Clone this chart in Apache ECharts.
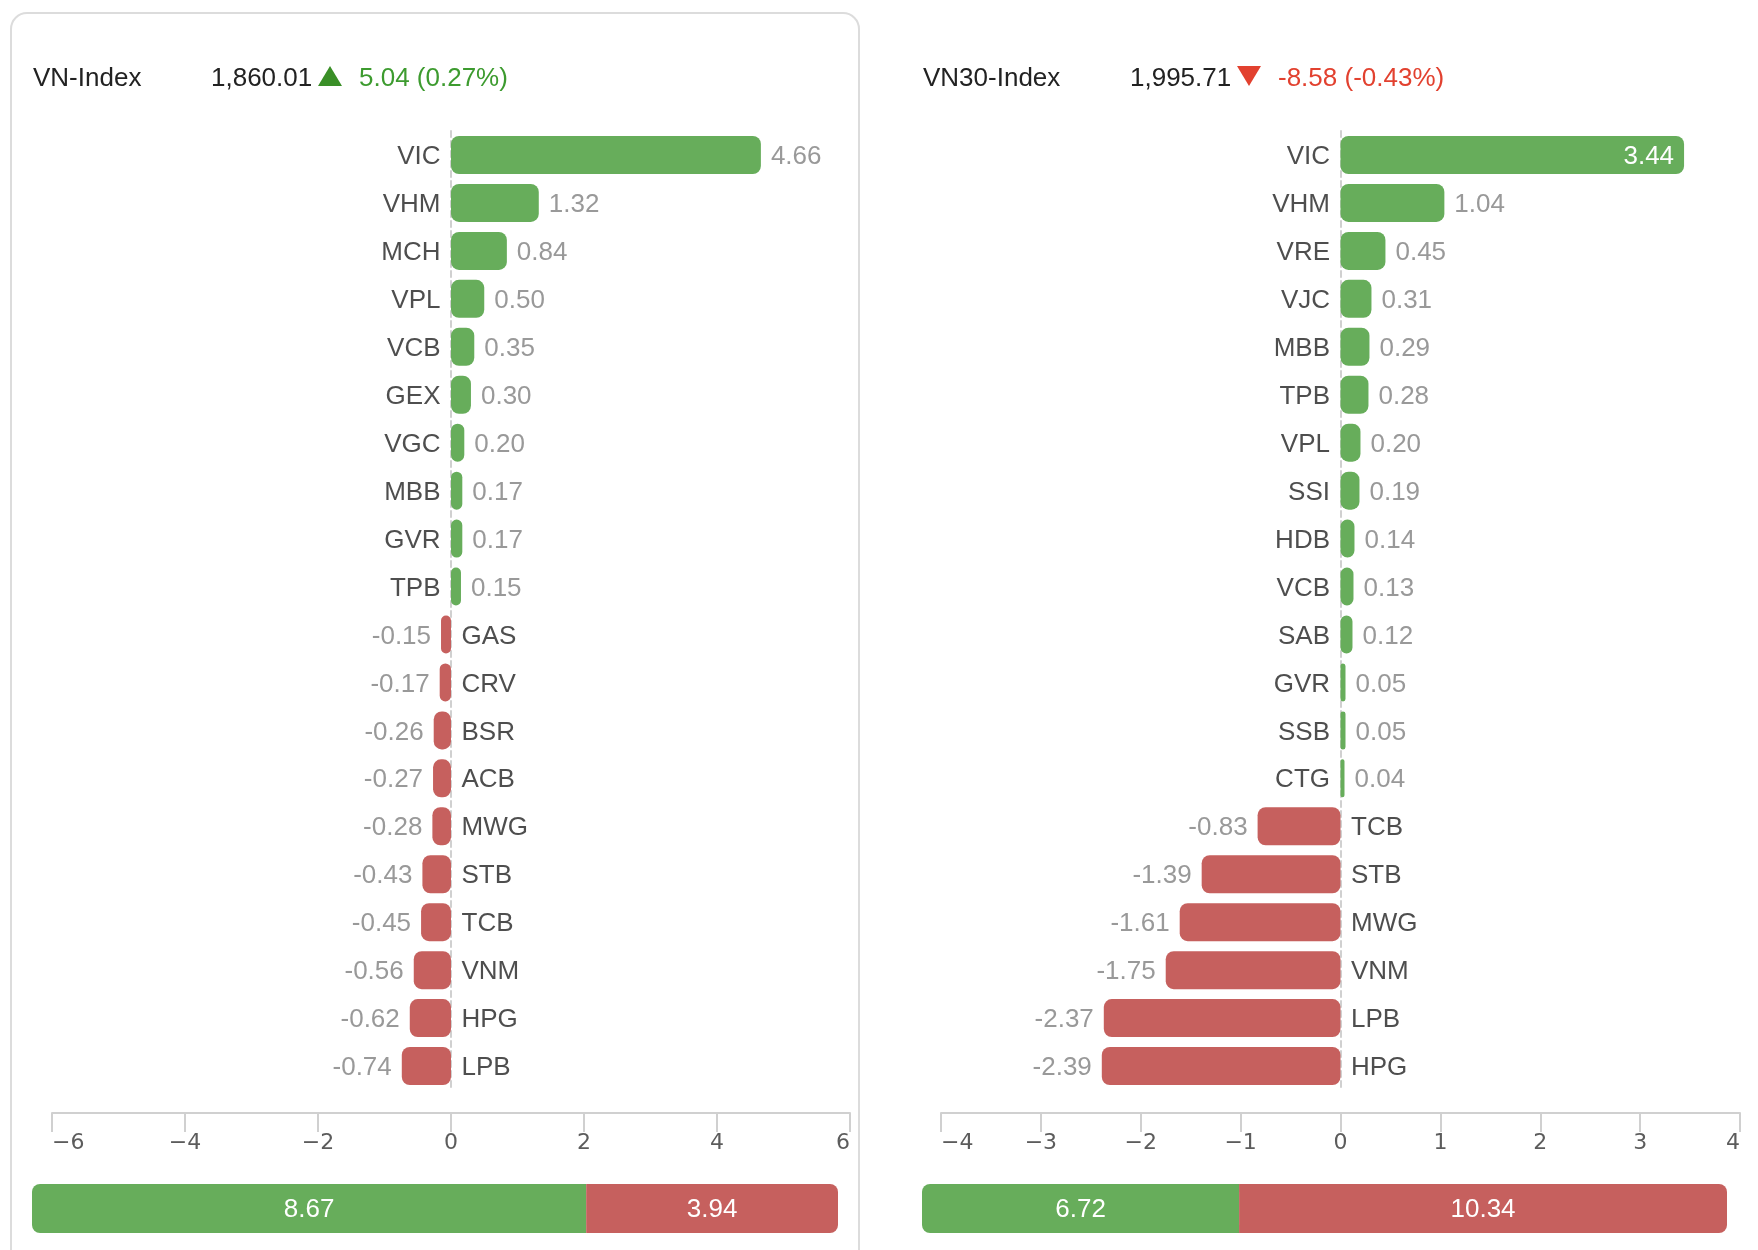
<!DOCTYPE html>
<html>
<head>
<meta charset="utf-8">
<script src="https://cdn.jsdelivr.net/npm/echarts@6/dist/echarts.min.js"></script>
<style>
  html, body { margin: 0; padding: 0; background: #fff; }
  #main { width: 1758px; height: 1250px; }
</style>
</head>
<body>
<div id="main"></div>
<script>
// VN-Index contributors
const vnNames = ['VIC', 'VHM', 'MCH', 'VPL', 'VCB', 'GEX', 'VGC', 'MBB', 'GVR', 'TPB',
                 'GAS', 'CRV', 'BSR', 'ACB', 'MWG', 'STB', 'TCB', 'VNM', 'HPG', 'LPB'];
const vnValues = [4.66, 1.32, 0.84, 0.50, 0.35, 0.30, 0.20, 0.17, 0.17, 0.15,
                  -0.15, -0.17, -0.26, -0.27, -0.28, -0.43, -0.45, -0.56, -0.62, -0.74];
const vnTotals = [8.67, 3.94];
const vnHeader = ['VN-Index', '1,860.01', '5.04 (0.27%)'];
const vnRange = [-6, 6, 2];

// VN30-Index contributors
const vn30Names = ['VIC', 'VHM', 'VRE', 'VJC', 'MBB', 'TPB', 'VPL', 'SSI', 'HDB', 'VCB',
                   'SAB', 'GVR', 'SSB', 'CTG', 'TCB', 'STB', 'MWG', 'VNM', 'LPB', 'HPG'];
const vn30Values = [3.44, 1.04, 0.45, 0.31, 0.29, 0.28, 0.20, 0.19, 0.14, 0.13,
                    0.12, 0.05, 0.05, 0.04, -0.83, -1.39, -1.61, -1.75, -2.37, -2.39];
const vn30Totals = [6.72, 10.34];
const vn30Header = ['VN30-Index', '1,995.71', '-8.58 (-0.43%)'];
const vn30Range = [-4, 4, 1];

const GREEN = '#67ad5b';
const RED = '#c6605e';
const FONT = '"Liberation Sans", Arial, Helvetica, sans-serif';

let chart = echarts.init(document.getElementById('main'));

function barData(values, max) {
    return values.map(function (v) {
        let inside = v > 0.8 * max;
        return {
            value: v,
            itemStyle: { color: v >= 0 ? GREEN : RED },
            label: {
                position: inside ? 'insideRight' : (v >= 0 ? 'right' : 'left'),
                color: inside ? '#fff' : '#999'
            }
        };
    });
}

function nameData(names, values) {
    return names.map(function (n, i) {
        return {
            value: [0, n],
            label: { position: values[i] >= 0 ? 'left' : 'right' }
        };
    });
}

function mainAxis(range, idx) {
    return {
        type: 'value',
        gridIndex: idx,
        min: range[0],
        max: range[1],
        interval: range[2],
        offset: 23,
        splitLine: { show: false },
        axisLine: { show: true, onZero: false, lineStyle: { color: '#d0d0d0', width: 2 } },
        axisTick: { show: true, length: 19, lineStyle: { color: '#d0d0d0', width: 2 } },
        axisLabel: {
            margin: 19,
            color: '#5c5c5c',
            fontSize: 22,
            fontFamily: '"DejaVu Sans", sans-serif',
            alignMinLabel: 'left',
            alignMaxLabel: 'right',
            formatter: function (v) { return v < 0 ? '\u2212' + Math.abs(v) : String(v); }
        }
    };
}

function catAxis(names, idx) {
    return {
        type: 'category',
        gridIndex: idx,
        data: names,
        inverse: true,
        axisTick: { show: false },
        axisLabel: { show: false },
        splitLine: { show: false },
        axisLine: { show: true, onZero: true, lineStyle: { color: '#d0d0d0', width: 2, type: [6, 4] } }
    };
}

function totalAxes(totals, idx) {
    return {
        x: { type: 'value', gridIndex: idx, min: 0, max: totals[0] + totals[1], show: false },
        y: { type: 'category', gridIndex: idx, data: ['total'], show: false }
    };
}

function header(h, x0, xVal, xTri, xChg, up) {
    let col = up ? '#3d9b2f' : '#e2412f';
    let tri = up
        ? [[xTri - 12, 86], [xTri + 12, 86], [xTri, 66]]
        : [[xTri - 12, 66], [xTri + 12, 66], [xTri, 86]];
    return [
        { type: 'text', x: x0, y: 78.5, style: { text: h[0], fill: '#222', font: '26px ' + FONT, verticalAlign: 'middle' } },
        { type: 'text', x: xVal, y: 78.5, style: { text: h[1], fill: '#222', font: '26px ' + FONT, verticalAlign: 'middle' } },
        { type: 'polygon', shape: { points: tri }, style: { fill: up ? '#3a8f27' : '#e2412f' } },
        { type: 'text', x: xChg, y: 78.5, style: { text: h[2], fill: col, font: '26px ' + FONT, verticalAlign: 'middle' } }
    ];
}

function mainBars(values, range, idx) {
    return {
        type: 'bar', xAxisIndex: idx, yAxisIndex: idx,
        barWidth: 38,
        itemStyle: { borderRadius: 8 },
        label: {
            show: true, distance: 10, fontSize: 26, fontFamily: FONT, offset: [0, 2],
            formatter: function (p) { return p.value.toFixed(2); }
        },
        data: barData(values, range[1])
    };
}

function nameLabels(names, values, idx) {
    return {
        type: 'scatter', xAxisIndex: idx, yAxisIndex: idx,
        symbolSize: 1, itemStyle: { color: 'rgba(0,0,0,0)' },
        silent: true,
        label: {
            show: true, distance: 10, fontSize: 26, fontFamily: FONT, color: '#222', offset: [0, 2],
            formatter: function (p) { return p.value[1]; }
        },
        data: nameData(names, values)
    };
}

function totalBar(v, idx, stack, color, radius) {
    return {
        type: 'bar', xAxisIndex: idx, yAxisIndex: idx, stack: stack, barWidth: 49,
        itemStyle: { color: color, borderRadius: radius },
        label: {
            show: true, position: 'inside', color: '#fff', fontSize: 26, fontFamily: FONT, offset: [0, 1],
            formatter: function (p) { return p.value.toFixed(2); }
        },
        data: [v]
    };
}

let vnTot = totalAxes(vnTotals, 2);
let vn30Tot = totalAxes(vn30Totals, 3);

let option = {
    backgroundColor: '#fff',
    animation: false,
    textStyle: { fontFamily: FONT },
    grid: [
        { left: 52, right: 908, top: 131, bottom: 160 },
        { left: 941, right: 18, top: 131, bottom: 160 },
        { left: 32, width: 806, top: 1184, height: 49 },
        { left: 922, width: 805, top: 1184, height: 49 }
    ],
    xAxis: [mainAxis(vnRange, 0), mainAxis(vn30Range, 1), vnTot.x, vn30Tot.x],
    yAxis: [catAxis(vnNames, 0), catAxis(vn30Names, 1), vnTot.y, vn30Tot.y],
    graphic: [
        {
            type: 'rect', z: -10,
            shape: { x: 11, y: 13, width: 848, height: 1400, r: 16 },
            style: { fill: 'none', stroke: '#dcdcdc', lineWidth: 2 }
        }
    ].concat(header(vnHeader, 33, 211, 330, 359, true))
     .concat(header(vn30Header, 923, 1130, 1249, 1278, false)),
    series: [
        mainBars(vnValues, vnRange, 0),
        nameLabels(vnNames, vnValues, 0),
        mainBars(vn30Values, vn30Range, 1),
        nameLabels(vn30Names, vn30Values, 1),
        totalBar(vnTotals[0], 2, 'a', GREEN, [8, 0, 0, 8]),
        totalBar(vnTotals[1], 2, 'a', RED, [0, 8, 8, 0]),
        totalBar(vn30Totals[0], 3, 'b', GREEN, [8, 0, 0, 8]),
        totalBar(vn30Totals[1], 3, 'b', RED, [0, 8, 8, 0])
    ]
};

chart.setOption(option);
window.addEventListener('resize', function () {
    chart.resize();
});
</script>
</body>
</html>
